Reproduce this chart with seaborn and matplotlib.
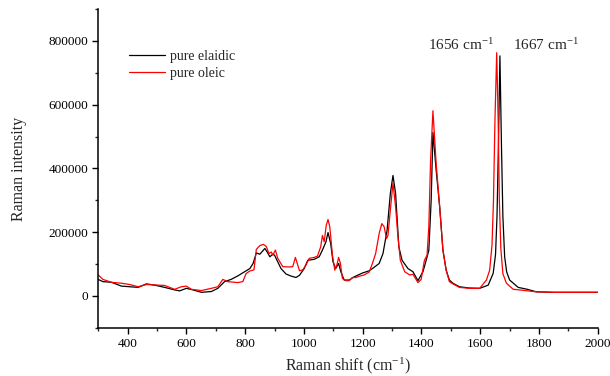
import numpy as np
import pandas as pd
import matplotlib
matplotlib.use("Agg")
import matplotlib.pyplot as plt
import seaborn as sns
from matplotlib.ticker import MultipleLocator

# ---- data ----
elaidic_shift = [300, 316, 345, 379, 407, 436, 464, 492, 526, 560, 577, 600, 623, 651, 685, 707,
                 730, 752, 775, 798, 816, 827, 838, 850, 867, 875, 884, 894, 900, 911, 922, 939,
                 956, 973, 985, 1001, 1013, 1035, 1052, 1063, 1075, 1082, 1091, 1099, 1108, 1118,
                 1126, 1137, 1154, 1171, 1199, 1222, 1239, 1256, 1269, 1283, 1294, 1303, 1312,
                 1323, 1334, 1354, 1371, 1388, 1405, 1416, 1425, 1433, 1439, 1450, 1462, 1473,
                 1484, 1495, 1507, 1529, 1563, 1598, 1627, 1644, 1652, 1657, 1662, 1667, 1672,
                 1677, 1683, 1690, 1700, 1729, 1760, 1791, 1850, 2000]
elaidic_int = [52000, 45000, 43000, 31000, 29000, 27000, 38000, 34000, 27000, 19000, 16000, 24000,
               19000, 11500, 14000, 24000, 45000, 52000, 63000, 76000, 86000, 102000, 135000,
               131000, 149000, 138000, 123000, 131000, 128000, 107000, 86000, 69000, 62500, 58000,
               65000, 86000, 112000, 115000, 123000, 144000, 170000, 199000, 165000, 107000, 86000,
               102000, 75000, 50000, 50000, 60000, 72000, 79000, 90000, 102000, 133000, 206000,
               321000, 378000, 321000, 154000, 112000, 86000, 76000, 48000, 76000, 112000, 143000,
               300000, 513000, 394000, 279000, 144000, 81000, 50000, 40000, 29000, 25000, 24000,
               34000, 71000, 130000, 250000, 480000, 753000, 480000, 250000, 123000, 75000, 50000,
               27000, 21000, 13000, 11500, 11500]

oleic_shift = [300, 316, 345, 379, 407, 436, 464, 526, 560, 583, 600, 617, 651, 685, 707, 724,
               741, 775, 792, 803, 815, 830, 838, 850, 862, 872, 881, 889, 894, 903, 911, 928,
               950, 962, 971, 979, 985, 996, 1007, 1018, 1035, 1046, 1057, 1063, 1069, 1076,
               1082, 1088, 1097, 1105, 1112, 1118, 1124, 1131, 1143, 1154, 1165, 1177, 1188,
               1205, 1222, 1233, 1244, 1256, 1265, 1273, 1281, 1286, 1294, 1303, 1312, 1320,
               1328, 1343, 1360, 1371, 1388, 1399, 1410, 1419, 1425, 1431, 1439, 1450, 1462,
               1473, 1484, 1495, 1507, 1529, 1563, 1598, 1621, 1632, 1640, 1645, 1650, 1656,
               1661, 1665, 1670, 1677, 1689, 1712, 1734, 1791, 1850, 2000]
oleic_int = [66000, 52000, 43000, 40000, 36000, 29000, 36000, 33000, 21000, 29000, 31000, 21000,
             17000, 24000, 29000, 52000, 45000, 42000, 45000, 70000, 78000, 82000, 146000, 158000,
             162000, 155000, 133000, 138000, 128000, 144000, 118000, 92000, 91000, 92000, 121000,
             97000, 79000, 82000, 97000, 118000, 121000, 125000, 154000, 190000, 170000, 222000,
             240000, 217000, 128000, 81000, 97000, 121000, 103000, 55000, 48000, 48000, 58000,
             58000, 62000, 66000, 75000, 102000, 133000, 196000, 227000, 217000, 180000, 190000,
             269000, 354000, 279000, 185000, 112000, 76000, 66000, 68000, 42000, 52000, 112000,
             128000, 217000, 425000, 581000, 415000, 279000, 144000, 81000, 45000, 38000, 27000,
             24000, 24000, 50000, 81000, 160000, 300000, 550000, 763000, 550000, 300000, 150000,
             70000, 40000, 21000, 19000, 13000, 11500, 11500]

series_names = ["pure elaidic", "pure oleic"]
peak_labels = ["1656 cm$^{-1}$", "1667 cm$^{-1}$"]
x_ticks = [400, 600, 800, 1000, 1200, 1400, 1600, 1800, 2000]
y_ticks = [0, 200000, 400000, 600000, 800000]

df = pd.concat([
    pd.DataFrame({"shift": elaidic_shift, "intensity": elaidic_int, "sample": series_names[0]}),
    pd.DataFrame({"shift": oleic_shift, "intensity": oleic_int, "sample": series_names[1]}),
])

sns.set_theme(style="ticks")
plt.rcParams["font.family"] = ["Liberation Serif", "DejaVu Serif"]
plt.rcParams["mathtext.fontset"] = "custom"
plt.rcParams["mathtext.rm"] = "Liberation Serif"
plt.rcParams["mathtext.it"] = "Liberation Serif:italic"

fig = plt.figure(figsize=(6.1, 3.76), dpi=100)
ax = fig.add_axes([0.161, 0.128, 0.819, 0.848])

sns.lineplot(data=df, x="shift", y="intensity", hue="sample", estimator=None, sort=False,
             palette={series_names[0]: "black", series_names[1]: "red"}, linewidth=0.9, ax=ax)

ax.set_xlim(300, 2000)
ax.set_ylim(-100000, 900000)
ax.set_xticks(x_ticks)
ax.set_yticks(y_ticks)
ax.xaxis.set_minor_locator(MultipleLocator(100))
ax.yaxis.set_minor_locator(MultipleLocator(100000))
ax.tick_params(axis="both", which="major", direction="out", length=4, width=1,
               labelsize=9.5, colors="black", pad=3)
ax.tick_params(axis="both", which="minor", direction="out", length=2.5, width=1)
for s in ["top", "right"]:
    ax.spines[s].set_visible(False)
for s in ["left", "bottom"]:
    ax.spines[s].set_linewidth(1.1)
    ax.spines[s].set_color("black")

ax.set_xlabel("Raman shift (cm$^{-1}$)", fontsize=11.5, labelpad=4)
ax.set_ylabel("Raman intensity", fontsize=11.5, labelpad=16)

leg = ax.legend(loc="upper left", bbox_to_anchor=(0.05, 0.89), frameon=False,
                fontsize=10, handlelength=2.6, handletextpad=0.4, labelspacing=0.3,
                borderaxespad=0)

ax.text(1421, 770000, peak_labels[0], fontsize=11, ha="left", va="baseline")
ax.text(1710, 770000, peak_labels[1], fontsize=11, ha="left", va="baseline")

fig.savefig("out.png", dpi=100)
